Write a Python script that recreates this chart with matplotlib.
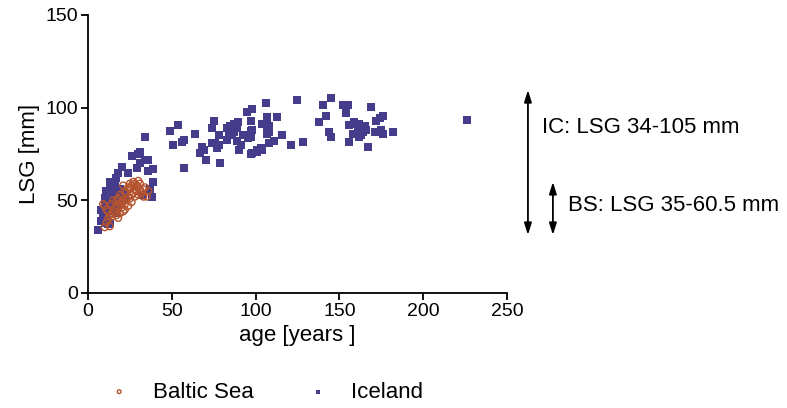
import matplotlib
matplotlib.use("Agg")
import matplotlib.pyplot as plt
import numpy as np

plt.rcParams['font.family'] = ['Liberation Sans', 'DejaVu Sans']

# Iceland: age [years], LSG [mm]
iceland_age = [6, 8, 9, 10, 12, 13, 14, 8, 10, 11, 12, 13, 14, 15, 16, 11, 12, 10, 13, 15,
               17, 18, 19, 20, 14, 16, 15, 13, 17, 18, 20, 21, 24, 26, 29, 30, 32, 36, 34, 31,
               37, 38, 39, 12, 16, 18, 22, 19, 11, 9, 17,
               49, 54, 51, 56, 57, 64, 57, 68, 69, 67, 70.5, 74, 75, 74, 76, 78, 77, 78, 79,
               83, 85, 87, 84, 86, 83, 87, 89.5, 89, 89, 92.5, 91, 95.5, 97, 90, 95, 98, 97,
               97, 101, 103, 104, 107, 107, 104, 106, 108, 107, 108, 107, 106, 113, 98, 97,
               116, 111, 108, 121, 125, 128, 145, 140, 142, 138, 144, 145, 152, 154, 155,
               156, 159, 160, 162, 165, 158, 161, 164, 166, 162, 163, 172, 174, 176, 171,
               175, 176, 182, 156, 167, 169, 226, 34, 31, 36, 39, 101, 98]
iceland_lsg = [34, 39, 44, 38, 37, 38, 46, 45, 47, 48, 50, 52, 49, 53, 55, 55, 53, 51, 56, 51,
               54, 50, 56, 53, 57, 58, 59, 60, 62, 65, 68, 55, 65, 74, 67.5, 75, 53, 72, 84, 76,
               56, 52, 67, 44, 47, 46, 51, 49, 42, 40, 43,
               87.5, 90.6, 80, 81.5, 82.5, 86, 67.5, 79, 77, 75.5, 72, 89, 93, 81, 81, 80, 78, 85, 70,
               89, 90, 91, 86, 85, 82.5, 87, 92, 89, 82, 85, 80, 83.6, 87.4, 77, 97.7, 99, 93,
               75, 77, 78, 77, 95, 94, 91, 91, 90, 88, 87, 86, 102.5, 95, 88, 84,
               85, 82, 81, 80, 104, 81.5, 105, 101.5, 95.5, 92, 87, 84, 101.5, 97, 101.5,
               90.7, 92, 91, 91, 90, 86, 87, 87, 88, 84, 85, 93, 94.4, 95.5, 87,
               88, 86, 87, 81.5, 79, 100.5, 93.4, 72, 70, 66, 60, 76, 75.5]

# Baltic Sea: age [years], LSG [mm]
baltic_age = [10, 11, 12, 13, 14, 15, 16, 17, 18, 19, 20, 21, 12, 11, 10, 9, 14, 16, 18, 19,
              20, 21, 22, 23, 24, 25, 26, 27, 28, 29, 30, 31, 32, 33, 34, 35, 36, 22, 24, 25,
              26, 27, 28, 29, 30, 31, 23, 25, 20, 18, 17, 15, 22, 24, 26, 13, 28, 30, 33, 21, 19]
baltic_lsg = [35.5, 38, 40, 42, 41, 43, 44, 42, 40.5, 43, 46, 44, 44, 45, 47, 48, 48, 46, 47, 48,
              49, 50, 48, 50, 52, 51, 53, 54, 52, 55, 53, 56, 54, 56, 57, 52, 55, 55, 57, 59,
              58, 60, 59, 58, 60.5, 59, 54, 56, 52, 51, 50, 50, 45, 47, 49, 36, 56, 57, 52, 58, 53]

ic_range = (34, 105)
bs_range = (35, 60.5)

fig = plt.figure(figsize=(7.87, 4.08), dpi=100)
ax = fig.add_axes([0.1118, 0.2819, 0.5324, 0.6814])

ax.scatter(iceland_age, iceland_lsg, marker='s', s=26, color='#463C8C', linewidths=0,
           label='Iceland', zorder=3)
ax.scatter(baltic_age, baltic_lsg, marker='o', s=24, facecolors='none', edgecolors='#B5532E',
           linewidths=1.0, label='Baltic Sea', zorder=4)

ax.set_xlim(0, 250)
ax.set_ylim(0, 150)
ax.set_xticks([0, 50, 100, 150, 200, 250])
ax.set_yticks([0, 50, 100, 150])
for s in ['top', 'right']:
    ax.spines[s].set_visible(False)
for s in ['left', 'bottom']:
    ax.spines[s].set_linewidth(1.3)
ax.tick_params(direction='out', length=5, width=1.3, labelsize=14, pad=2)
ax.set_xlabel('age [years ]', fontsize=16, labelpad=4)
ax.set_ylabel('LSG [mm]', fontsize=16, labelpad=4)

# range arrows
arrow = dict(arrowstyle='<|-|>,head_length=0.7,head_width=0.22', color='black', lw=1.3,
             shrinkA=0, shrinkB=0)
ax.annotate('', xy=(262.5, 31.3), xytext=(262.5, 109.5), arrowprops=arrow,
            annotation_clip=False)
ax.annotate('', xy=(277.4, 31.3), xytext=(277.4, 59.9), arrowprops=arrow,
            annotation_clip=False)
ax.text(270.9, 89.5, f'IC: LSG {ic_range[0]}-{ic_range[1]} mm', fontsize=16,
        va='center', ha='left', clip_on=False)
ax.text(286.4, 47.0, f'BS: LSG {bs_range[0]}-{bs_range[1]} mm', fontsize=16,
        va='center', ha='left', clip_on=False)

h, l = ax.get_legend_handles_labels()
fig.legend(h[::-1], l[::-1], loc='center', bbox_to_anchor=(260 / 787, 1 - 392 / 408),
           ncol=2, frameon=False, fontsize=16, markerscale=0.55, handletextpad=0.5,
           columnspacing=1.9)

fig.savefig('out.png', dpi=100)
